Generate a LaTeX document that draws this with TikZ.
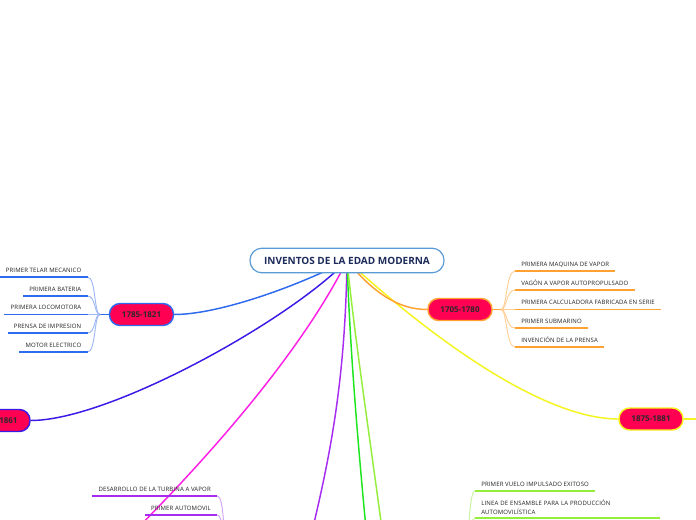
\documentclass[tikz,border=0pt]{standalone}
\usepackage{fontspec}
\setmainfont{Open Sans}
\newfontfamily\temafont[LetterSpace=2.5]{Open Sans}
\usepackage{xcolor}
\usepackage{tikz}
\usetikzlibrary{positioning,backgrounds}
\definecolor{raizBorde}{HTML}{5B9BD5}
\definecolor{raizTexto}{HTML}{1C2B5A}
\definecolor{anioRojo}{HTML}{FF0052}
\definecolor{anioTexto}{HTML}{2B2B2B}
\definecolor{temaTexto}{HTML}{222222}
\definecolor{ramaAzul}{HTML}{2F6BEE}
\definecolor{ramaAzulClaro}{HTML}{9DB8F5}
\definecolor{ramaIndigo}{HTML}{3A1AE6}
\definecolor{ramaMagenta}{HTML}{FF1EE6}
\definecolor{ramaMorado}{HTML}{A62CF2}
\definecolor{ramaMoradoClaro}{HTML}{D3A2FA}
\definecolor{ramaVerde}{HTML}{1EE61E}
\definecolor{ramaLima}{HTML}{96EE3C}
\definecolor{ramaLimaClaro}{HTML}{C6F59A}
\definecolor{ramaAmarillo}{HTML}{F5F51E}
\definecolor{ramaNaranja}{HTML}{FFA232}
\definecolor{ramaNaranjaClaro}{HTML}{FFCF96}
\tikzset{
  raiz/.style={draw=raizBorde, line width=0.9pt, fill=white, rounded corners=9pt, minimum width=145.5pt, minimum height=18.5pt, font=\fontsize{7.5}{9}\selectfont\bfseries, text=raizTexto},
  anio/.style={draw=#1, line width=1.1pt, fill=anioRojo, rounded corners=8pt, minimum width=48pt, minimum height=16.5pt, inner sep=0pt, font=\fontsize{6}{7}\selectfont\bfseries, text=anioTexto},
  tema/.style={font=\temafont\fontsize{4.5}{6.75}\selectfont, text=temaTexto, inner xsep=4.5pt, inner ysep=3.4pt, text depth=0pt, align=left,
    append after command={(\tikzlastnode.south west) edge[draw=#1, line width=1pt] (\tikzlastnode.south east)}},
  rama/.style={draw=#1, line width=1.1pt},
  subrama/.style={draw=#1, line width=0.7pt},
}
\begin{document}
\begin{tikzpicture}[x=0.75pt, y=-0.75pt]
\useasboundingbox (0,0) rectangle (696,520);
% nodo central
\node[raiz] (raiz) at (347,260.5) {INVENTOS DE LA EDAD MODERNA};
% fechas
\node[anio=ramaAzul] (f1785) at (141.5,314.5) {1785-1821};
\node[anio=ramaNaranja] (f1705) at (460,309.5) {1705-1780};
\node[anio=ramaIndigo] (f1861) at (-2,420.5) {\phantom{0000-}1861};
\node[anio=ramaAmarillo] (f1875) at (651,419) {1875-1881};
% inventos 1785-1821
\node[tema=ramaAzul, anchor=south east] (telar) at (87.5,277) {PRIMER TELAR MECANICO};
\node[tema=ramaAzul, anchor=south east] (bateria) at (87.5,296) {PRIMERA BATERIA};
\node[tema=ramaAzul, anchor=south east] (locomotora) at (87.5,314.5) {PRIMERA LOCOMOTORA};
\node[tema=ramaAzul, anchor=south east] (prensaimp) at (87.5,333) {PRENSA DE IMPRESION};
\node[tema=ramaAzul, anchor=south east] (motor) at (87.5,352) {MOTOR ELECTRICO};
% inventos 1705-1780
\node[tema=ramaNaranja, anchor=south west] (maquina) at (515,271) {PRIMERA MAQUINA DE VAPOR};
\node[tema=ramaNaranja, anchor=south west] (vagon) at (515,290) {VAGÓN A VAPOR AUTOPROPULSADO};
\node[tema=ramaNaranja, anchor=south west] (calculadora) at (515,309.5) {PRIMERA CALCULADORA FABRICADA EN SERIE};
\node[tema=ramaNaranja, anchor=south west] (submarino) at (515,328) {PRIMER SUBMARINO};
\node[tema=ramaNaranja, anchor=south west] (prensa) at (515,347) {INVENCIÓN DE LA PRENSA};
% inventos de abajo
\node[tema=ramaMorado, anchor=south east] (turbina) at (217,496) {DESARROLLO DE LA TURBINA A VAPOR};
\node[tema=ramaMorado, anchor=south east] (automovil) at (217,515) {PRIMER AUTOMOVIL};
\node[tema=ramaLima, anchor=south west] (vuelo) at (475,491) {PRIMER VUELO IMPULSADO EXITOSO};
\node[tema=ramaLima, anchor=south west, text width=129pt, text depth=6.75pt, inner ysep=2.8pt] (ensamble) at (475,518) {LINEA DE ENSAMBLE PARA LA PRODUCCIÓN\\AUTOMOVILÍSTICA};
% puntos fuera del marco
\coordinate (finMagenta) at (95,570);
\coordinate (finMorado) at (300,580);
\coordinate (finVerde) at (372,590);
\coordinate (finLima) at (390,590);
\coordinate (finAmarillo) at (705,419);
\coordinate (uneAzul) at (100,314.5);
\coordinate (uneNaranja) at (501,309.5);
\coordinate (uneMorado) at (226,600);
\coordinate (uneLima) at (466,600);
\begin{scope}[on background layer]
\fill[white] (0,0) rectangle (696,520);
\draw[rama=ramaAzul] (raiz.center) .. controls (300,285) and (220,314.5) .. (f1785.east);
\draw[rama=ramaIndigo] (raiz.center) .. controls (290,320) and (110,420.5) .. (f1861.east);
\draw[rama=ramaMagenta] (raiz.center) .. controls (305,345) and (215,455) .. (finMagenta);
\draw[rama=ramaMorado] (raiz.center) .. controls (345,400) and (325,480) .. (finMorado);
\draw[rama=ramaVerde] (raiz.center) .. controls (350,350) and (358,450) .. (finVerde);
\draw[rama=ramaLima] (raiz.center) .. controls (356,350) and (372,450) .. (finLima);
\draw[rama=ramaAmarillo] (raiz.center) .. controls (425,332) and (540,419) .. (f1875.west);
\draw[rama=ramaAmarillo] (f1875.east) -- (finAmarillo);
\draw[rama=ramaNaranja] (raiz.center) .. controls (375,295) and (400,309.5) .. (f1705.west);
% ramas de 1785-1821
\draw[rama=ramaAzul] (f1785.west) -- (uneAzul);
\draw[subrama=ramaAzulClaro] (uneAzul) .. controls (94,314.5) and (96,277) .. (telar.south east);
\draw[subrama=ramaAzulClaro] (uneAzul) .. controls (94,314.5) and (96,296) .. (bateria.south east);
\draw[subrama=ramaAzulClaro] (uneAzul) -- (locomotora.south east);
\draw[subrama=ramaAzulClaro] (uneAzul) .. controls (94,314.5) and (96,333) .. (prensaimp.south east);
\draw[subrama=ramaAzulClaro] (uneAzul) .. controls (94,314.5) and (96,352) .. (motor.south east);
% ramas de 1705-1780
\draw[rama=ramaNaranja] (f1705.east) -- (uneNaranja);
\draw[subrama=ramaNaranjaClaro] (uneNaranja) .. controls (507,309.5) and (506,271) .. (maquina.south west);
\draw[subrama=ramaNaranjaClaro] (uneNaranja) .. controls (507,309.5) and (506,290) .. (vagon.south west);
\draw[subrama=ramaNaranjaClaro] (uneNaranja) -- (calculadora.south west);
\draw[subrama=ramaNaranjaClaro] (uneNaranja) .. controls (507,309.5) and (506,328) .. (submarino.south west);
\draw[subrama=ramaNaranjaClaro] (uneNaranja) .. controls (507,309.5) and (506,347) .. (prensa.south west);
% ramas que siguen fuera del marco
\draw[subrama=ramaMoradoClaro] (uneMorado) .. controls (224,540) and (225,496) .. (turbina.south east);
\draw[subrama=ramaMoradoClaro] (uneMorado) .. controls (224,560) and (225,515) .. (automovil.south east);
\draw[subrama=ramaLimaClaro] (uneLima) .. controls (468,540) and (469,491) .. (vuelo.south west);
\draw[subrama=ramaLimaClaro] (uneLima) .. controls (467,560) and (469,518) .. (ensamble.south west);
\end{scope}
\end{tikzpicture}
\end{document}
